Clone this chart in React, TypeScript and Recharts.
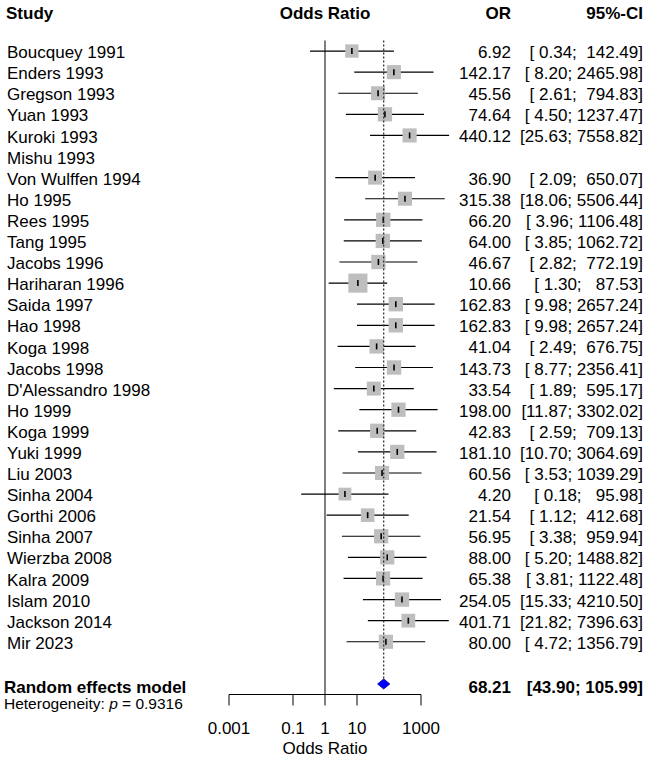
import { ReferenceLine, Scatter, ScatterChart, XAxis, YAxis } from 'recharts';

// Per-study odds ratios with 95% confidence limits (null = no estimable events)
const studies = [
  'Boucquey 1991', 'Enders 1993', 'Gregson 1993', 'Yuan 1993', 'Kuroki 1993', 'Mishu 1993',
  'Von Wulffen 1994', 'Ho 1995', 'Rees 1995', 'Tang 1995', 'Jacobs 1996', 'Hariharan 1996',
  'Saida 1997', 'Hao 1998', 'Koga 1998', 'Jacobs 1998', "D'Alessandro 1998", 'Ho 1999',
  'Koga 1999', 'Yuki 1999', 'Liu 2003', 'Sinha 2004', 'Gorthi 2006', 'Sinha 2007',
  'Wierzba 2008', 'Kalra 2009', 'Islam 2010', 'Jackson 2014', 'Mir 2023',
];
const oddsRatios = [
  6.92, 142.17, 45.56, 74.64, 440.12, null, 36.9, 315.38, 66.2, 64.0, 46.67, 10.66, 162.83, 162.83,
  41.04, 143.73, 33.54, 198.0, 42.83, 181.1, 60.56, 4.2, 21.54, 56.95, 88.0, 65.38, 254.05, 401.71, 80.0,
];
const ciLower = [
  0.34, 8.2, 2.61, 4.5, 25.63, null, 2.09, 18.06, 3.96, 3.85, 2.82, 1.3, 9.98, 9.98,
  2.49, 8.77, 1.89, 11.87, 2.59, 10.7, 3.53, 0.18, 1.12, 3.38, 5.2, 3.81, 15.33, 21.82, 4.72,
];
const ciUpper = [
  142.49, 2465.98, 794.83, 1237.47, 7558.82, null, 650.07, 5506.44, 1106.48, 1062.72, 772.19, 87.53,
  2657.24, 2657.24, 676.75, 2356.41, 595.17, 3302.02, 709.13, 3064.69, 1039.29, 95.98, 412.68,
  959.94, 1488.82, 1122.48, 4210.5, 7396.63, 1356.79,
];

// Random effects pooled estimate
const pooledOR = 68.21;
const pooledLower = 43.9;
const pooledUpper = 105.99;
const heterogeneityP = '0.9316';

const xTicks = [0.001, 0.1, 1, 10, 1000];

const SUMMARY_ROW = studies.length + 1;
const rowTicks = [...studies.map((_, i) => i), SUMMARY_ROW];

const fmt = (v: number) => v.toFixed(2);

const studyPoints = studies
  .map((name, i) => ({ name, x: oddsRatios[i], y: i, lower: ciLower[i], upper: ciUpper[i] }))
  .filter((d) => d.x != null)
  .map((d) => {
    // inverse-variance weight from the CI width on the log scale
    const se = (Math.log(d.upper as number) - Math.log(d.lower as number)) / (2 * 1.96);
    return { ...d, weight: 1 / (se * se) };
  });

// diamond corners: left, top, right, bottom
const diamond = [
  { x: pooledLower, y: SUMMARY_ROW },
  { x: pooledOR, y: SUMMARY_ROW - 0.24 },
  { x: pooledUpper, y: SUMMARY_ROW },
  { x: pooledOR, y: SUMMARY_ROW + 0.24 },
];

const FONT = '"Liberation Sans", Arial, sans-serif';

function WeightSquare(props: any) {
  const { cx, cy, payload } = props;
  const side = 20.5 * Math.sqrt(payload.weight);
  return (
    <g>
      <rect x={cx - side / 2} y={cy - side / 2} width={side} height={side} fill="#bebebe" />
      <line x1={cx} x2={cx} y1={cy - 3} y2={cy + 3} stroke="#000" strokeWidth={1.6} />
    </g>
  );
}

function DiamondShape(props: any) {
  const pts = (props.points || []).map((p: any) => `${p.x},${p.y}`).join(' ');
  return <polygon points={pts} fill="#0000ff" stroke="#00008b" strokeWidth={0.8} />;
}

// One tick per row: study name on the left, OR and CI columns on the right
function RowTick(props: any) {
  const { y, payload } = props;
  const row = payload.value;
  const summary = row === SUMMARY_ROW;
  const weight = summary ? 700 : 400;
  let orText = '';
  let ciText = '';
  if (summary) {
    orText = fmt(pooledOR);
    ciText = `[${fmt(pooledLower)}; ${fmt(pooledUpper)}]`;
  } else if (oddsRatios[row] != null) {
    orText = fmt(oddsRatios[row] as number);
    ciText = `[${fmt(ciLower[row] as number).padStart(5)}; ${fmt(ciUpper[row] as number).padStart(7)}]`;
  }
  return (
    <g fontSize={17} fontWeight={weight} fill="#000">
      <text x={summary ? 4 : 7} y={y} dy={summary ? 8.6 : 7.1}>
        {summary ? 'Random effects model' : studies[row]}
      </text>
      <text x={511} y={y} dy={summary ? 8.6 : 7} textAnchor="end">
        {orText}
      </text>
      <text x={643} y={y} dy={summary ? 8.6 : 7} textAnchor="end" style={{ whiteSpace: 'pre' }}>
        {ciText}
      </text>
    </g>
  );
}

const headerBase: React.CSSProperties = {
  position: 'absolute',
  top: 4,
  height: 20,
  lineHeight: '20px',
  fontSize: 17,
  fontWeight: 700,
  color: '#000',
  whiteSpace: 'nowrap',
};

export default function App() {
  return (
    <div
      style={{
        position: 'absolute',
        left: 0,
        top: 0,
        width: 650,
        height: 760,
        background: '#fff',
        fontFamily: FONT,
      }}
    >
      <div style={{ ...headerBase, left: 6 }}>Study</div>
      <div style={{ ...headerBase, left: 225, width: 200, textAlign: 'center' }}>Odds Ratio</div>
      <div style={{ ...headerBase, right: 139 }}>OR</div>
      <div style={{ ...headerBase, right: 7 }}>95%-CI</div>

      <ScatterChart width={650} height={760} margin={{ top: 40.5, right: 197, bottom: 5.5, left: 0 }}>
        <XAxis
          type="number"
          dataKey="x"
          scale="log"
          domain={[0.001, 10000]}
          ticks={xTicks}
          tickFormatter={(v: number) => String(v)}
          axisLine={false}
          tickLine={{ stroke: '#000' }}
          tickSize={11}
          tickMargin={16.5}
          height={60}
          tick={{ fill: '#000', fontSize: 17 }}
          interval={0}
        />
        <YAxis
          type="number"
          dataKey="y"
          domain={[-0.5, SUMMARY_ROW + 0.5]}
          reversed
          ticks={rowTicks}
          interval={0}
          width={229}
          axisLine={false}
          tickLine={false}
          tick={<RowTick />}
        />

        {/* line of no effect and the shortened axis line */}
        <ReferenceLine x={1} stroke="#000" strokeWidth={1} />
        <ReferenceLine
          segment={[
            { x: 0.001, y: SUMMARY_ROW + 0.5 },
            { x: 1000, y: SUMMARY_ROW + 0.5 },
          ]}
          stroke="#000"
          strokeWidth={1}
          ifOverflow="visible"
        />

        {/* confidence intervals */}
        {studyPoints.map((d) => (
          <ReferenceLine
            key={d.name}
            segment={[
              { x: d.lower as number, y: d.y },
              { x: d.upper as number, y: d.y },
            ]}
            stroke="#000"
            strokeWidth={1.2}
            ifOverflow="visible"
          />
        ))}

        <Scatter data={studyPoints} shape={<WeightSquare />} isAnimationActive={false} />

        {/* pooled estimate */}
        <ReferenceLine
          segment={[
            { x: pooledOR, y: -0.5 },
            { x: pooledOR, y: SUMMARY_ROW - 0.24 },
          ]}
          stroke="#333"
          strokeWidth={1.3}
          strokeDasharray="2 2"
          ifOverflow="visible"
          zIndex={700}
        />
        <Scatter
          data={diamond}
          line={DiamondShape}
          lineType="joint"
          shape={() => <g />}
          isAnimationActive={false}
        />
      </ScatterChart>

      <div
        style={{
          position: 'absolute',
          left: 4,
          top: 695,
          height: 18,
          lineHeight: '18px',
          fontSize: 15.5,
          color: '#000',
          whiteSpace: 'nowrap',
        }}
      >
        Heterogeneity: <i>p</i> = {heterogeneityP}
      </div>
      <div
        style={{
          position: 'absolute',
          left: 225,
          width: 200,
          top: 738.5,
          height: 20,
          lineHeight: '20px',
          fontSize: 17,
          textAlign: 'center',
          color: '#000',
        }}
      >
        Odds Ratio
      </div>
    </div>
  );
}
